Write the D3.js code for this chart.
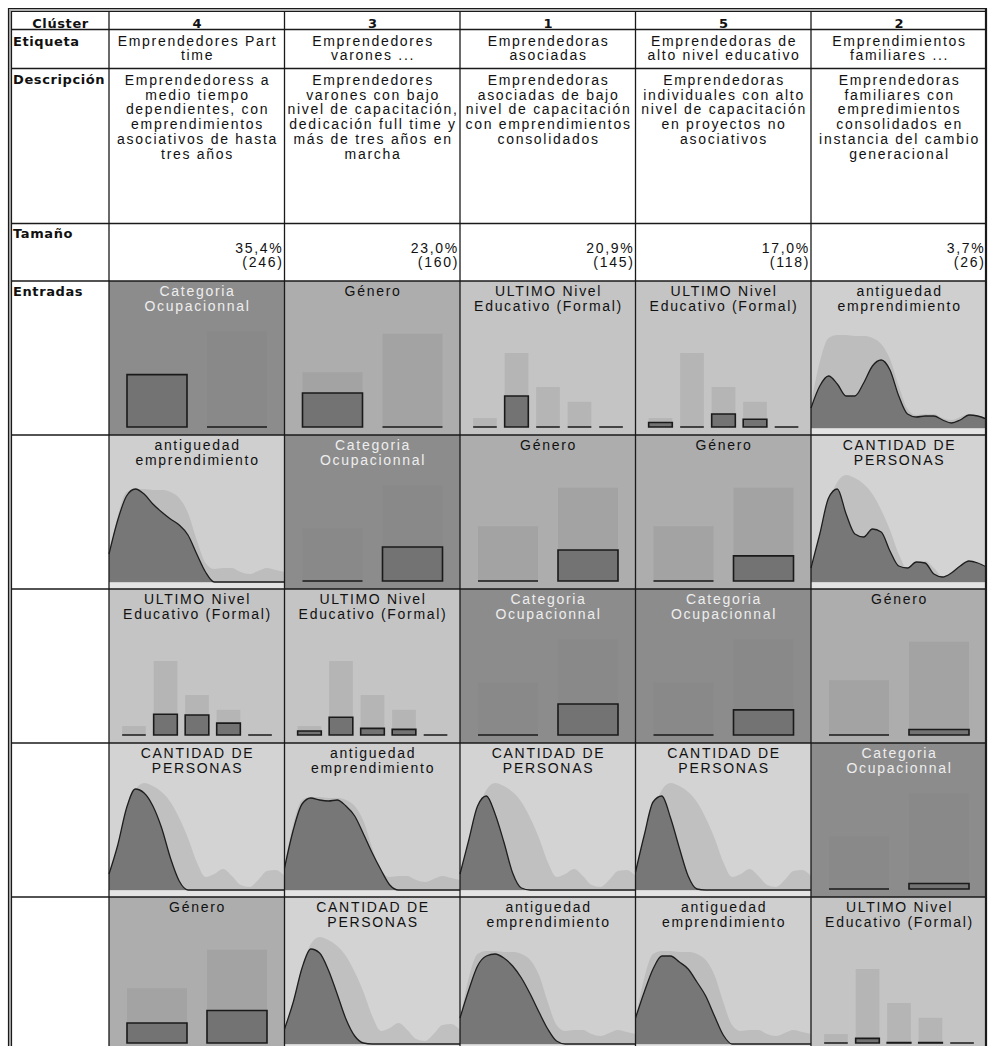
<!DOCTYPE html>
<html>
<head>
<meta charset="utf-8">
<script src="https://cdn.jsdelivr.net/npm/d3@7"></script>
<style>
  body { margin: 0; background: #fff; }
  svg text { font-family: "Liberation Sans", Arial, sans-serif; font-size: 14px; letter-spacing: 1.7px; fill: #111; }
  svg text.head { font-family: "DejaVu Sans", Verdana, sans-serif; font-weight: bold; font-size: 13px; letter-spacing: 0.6px; }
</style>
</head>
<body>
<div id="chart"></div>
<script>
// clusters in display order
const clusters = ['4', '3', '1', '5', '2'];
const sizePct = ['35,4%', '23,0%', '20,9%', '17,0%', '3,7%'];
const sizeN = ['(246)', '(160)', '(145)', '(118)', '(26)'];

const labels = [
  ['Emprendedores Part', 'time'],
  ['Emprendedores', 'varones ...'],
  ['Emprendedoras', 'asociadas'],
  ['Emprendedoras de', 'alto nivel educativo'],
  ['Emprendimientos', 'familiares ...']
];

const descriptions = [
  ['Emprendedoress a', 'medio tiempo', 'dependientes, con', 'emprendimientos', 'asociativos de hasta', 'tres años'],
  ['Emprendedores', 'varones con bajo', 'nivel de capacitación,', 'dedicación full time y', 'más de tres años en', 'marcha'],
  ['Emprendedoras', 'asociadas de bajo', 'nivel de capacitación', 'con emprendimientos', 'consolidados'],
  ['Emprendedoras', 'individuales con alto', 'nivel de capacitación', 'en proyectos no', 'asociativos'],
  ['Emprendedoras', 'familiares con', 'empredimientos', 'consolidados en', 'instancia del cambio', 'generacional']
];

// inputs (rows) per cluster, sorted by importance inside each cluster
const inputOrder = [
  ['cat', 'ant', 'edu', 'cant', 'gen'],
  ['gen', 'cat', 'edu', 'ant', 'cant'],
  ['edu', 'gen', 'cat', 'cant', 'ant'],
  ['edu', 'gen', 'cat', 'cant', 'ant'],
  ['ant', 'cant', 'gen', 'cat', 'edu']
];

const inputTitles = {
  cat: ['Categoria', 'Ocupacionnal'],
  gen: ['Género'],
  edu: ['ULTIMO Nivel', 'Educativo (Formal)'],
  ant: ['antiguedad', 'emprendimiento'],
  cant: ['CANTIDAD DE', 'PERSONAS']
};

// importance shading
const inputShade = { cat: '#8c8c8c', gen: '#adadad', edu: '#c4c4c4', ant: '#cfcfcf', cant: '#d3d3d3' };
const inputType = { cat: 'bar', gen: 'bar', edu: 'bar', ant: 'density', cant: 'density' };

// categorical inputs: share of total sample per category
const catOverall = [0.355, 0.645];
const catCluster = { '4': [0.354, 0], '3': [0, 0.23], '1': [0, 0.209], '5': [0, 0.17], '2': [0, 0.037] };

const genOverall = [0.37, 0.63];
const genCluster = { '4': [0.135, 0.22], '3': [0.23, 0], '1': [0, 0.209], '5': [0, 0.17], '2': [0, 0.037] };

const eduOverall = [0.06, 0.50, 0.27, 0.17, 0];
const eduCluster = {
  '4': [0, 0.14, 0.135, 0.08, 0],
  '3': [0.027, 0.12, 0.045, 0.038, 0],
  '1': [0, 0.209, 0, 0, 0],
  '5': [0.03, 0, 0.088, 0.052, 0],
  '2': [0, 0.031, 0.003, 0.003, 0]
};

// continuous inputs: relative density on a common grid
const densityX = [0, 1, 2, 3, 4, 5, 6, 7, 8, 9, 10, 11, 12, 13, 14, 15, 16, 17, 18, 19, 20];

const antOverall = [24, 66, 90, 93, 93, 92, 92, 90, 84, 69, 42, 19, 13, 14, 14, 10, 8, 11, 14, 12, 10];
const antCluster = {
  '4': [28, 62, 86, 93, 88, 78, 70, 63, 57, 47, 28, 10, 0, 0, 0, 0, 0, 0, 0, 0, 0],
  '3': [22, 60, 86, 92, 90, 89, 90, 84, 74, 56, 37, 20, 5, 0, 0, 0, 0, 0, 0, 0, 0],
  '1': [26, 54, 78, 88, 90, 86, 78, 66, 50, 32, 15, 3, 0, 0, 0, 0, 0, 0, 0, 0, 0],
  '5': [26, 52, 75, 88, 88, 82, 75, 62, 48, 28, 9, 0, 0, 0, 0, 0, 0, 0, 0, 0, 0],
  '2': [20, 42, 52, 44, 32, 32, 45, 62, 68, 58, 32, 14, 11, 12, 12, 8, 5, 8, 13, 12, 9]
};

const cantOverall = [14, 40, 78, 100, 107, 104, 98, 88, 72, 52, 28, 13, 16, 21, 14, 5, 3, 10, 19, 20, 14];
const cantCluster = {
  '4': [16, 45, 82, 101, 97, 84, 62, 32, 9, 0, 0, 0, 0, 0, 0, 0, 0, 0, 0, 0, 0],
  '3': [15, 42, 76, 95, 91, 74, 50, 25, 8, 1, 0, 0, 0, 0, 0, 0, 0, 0, 0, 0, 0],
  '1': [16, 50, 84, 94, 76, 48, 17, 2, 0, 0, 0, 0, 0, 0, 0, 0, 0, 0, 0, 0, 0],
  '5': [18, 55, 88, 94, 72, 42, 14, 1, 0, 0, 0, 0, 0, 0, 0, 0, 0, 0, 0, 0, 0],
  '2': [14, 48, 84, 93, 68, 48, 45, 53, 50, 31, 16, 14, 20, 19, 8, 5, 9, 16, 21, 19, 15]
};

const barData = {
  cat: { overall: catOverall, cluster: catCluster },
  gen: { overall: genOverall, cluster: genCluster },
  edu: { overall: eduOverall, cluster: eduCluster }
};
const densityData = {
  ant: { overall: antOverall, cluster: antCluster },
  cant: { overall: cantOverall, cluster: cantCluster }
};

const width = 988;
const height = 1046;
const labelLeft = 11.5;
const labelRight = 109;
const tableRight = 986.5;
const cellTop = 281;
const cellH = 154;

const svg = d3.select('#chart').append('svg')
  .attr('width', width)
  .attr('height', height);

const col = d3.scaleBand().domain(clusters).range([labelRight, tableRight]);
const row = d3.scaleBand().domain([0, 1, 2, 3, 4]).range([cellTop, cellTop + 5 * cellH]);
const colW = col.bandwidth();

// helper: several lines of text
function textLines(g, arr, x, y0, dy, anchor, cls, color) {
  arr.forEach(function (t, i) {
    g.append('text')
      .attr('class', cls || null)
      .attr('x', x)
      .attr('y', y0 + i * dy)
      .attr('text-anchor', anchor)
      .style('fill', color || null)
      .text(t);
  });
}

// ---- cells ----
const cells = svg.append('g');

clusters.forEach(function (c, ci) {
  inputOrder[ci].forEach(function (key, ri) {
    const g = cells.append('g')
      .attr('transform', 'translate(' + col(c) + ',' + row(ri) + ')');

    g.append('rect')
      .attr('width', colW)
      .attr('height', cellH)
      .attr('fill', inputShade[key]);

    if (inputType[key] === 'bar') {
      const d = barData[key];
      const x = d3.scaleBand()
        .domain(d3.range(d.overall.length))
        .range([10, 166])
        .paddingInner(0.25)
        .paddingOuter(0.1);
      const y = d3.scaleLinear().domain([0, 1]).range([146, -2]);

      g.selectAll('rect.overall')
        .data(d.overall)
        .join('rect')
        .attr('class', 'overall')
        .attr('x', function (v, i) { return x(i); })
        .attr('y', function (v) { return y(v); })
        .attr('width', x.bandwidth())
        .attr('height', function (v) { return y(0) - y(v); })
        .attr('fill', 'rgb(128,128,128)')
        .attr('fill-opacity', 0.22);

      // cluster bars as paths so that empty categories still show a line
      g.selectAll('path.clbar')
        .data(d.cluster[c])
        .join('path')
        .attr('class', 'clbar')
        .attr('d', function (v, i) {
          const x0 = x(i), x1 = x(i) + x.bandwidth();
          return 'M' + x0 + ',' + y(0) + 'H' + x1 + 'V' + y(v) + 'H' + x0 + 'Z';
        })
        .attr('fill', '#737373')
        .attr('stroke', '#1a1a1a')
        .attr('stroke-width', 1.6);
    } else {
      const d = densityData[key];
      const x = d3.scaleLinear().domain([0, 20]).range([0, colW]);
      const y = d3.scaleLinear().domain([0, 100]).range([147, 47]);

      // light strip under the plot
      g.append('rect')
        .attr('y', 148)
        .attr('width', colW)
        .attr('height', cellH - 148)
        .attr('fill', '#e4e4e4');

      const area = d3.area()
        .x(function (v, i) { return x(densityX[i]); })
        .y0(y(0))
        .y1(function (v) { return y(v); })
        .curve(d3.curveMonotoneX);
      const line = d3.line()
        .x(function (v, i) { return x(densityX[i]); })
        .y(function (v) { return y(v); })
        .curve(d3.curveMonotoneX);

      g.append('path')
        .datum(d.overall)
        .attr('d', area)
        .attr('fill', 'rgb(128,128,128)')
        .attr('fill-opacity', 0.22);

      g.append('path')
        .datum(d.cluster[c])
        .attr('d', area)
        .attr('fill', '#777');

      g.append('path')
        .datum(d.cluster[c])
        .attr('d', line)
        .attr('fill', 'none')
        .attr('stroke', '#1e1e1e')
        .attr('stroke-width', 1.3);
    }

    textLines(g, inputTitles[key], colW / 2 + 0.8, 15, 15, 'middle', null,
      key === 'cat' ? '#eeeeee' : '#111');
  });
});

// ---- header texts ----
const head = svg.append('g');

textLines(head, ['Clúster'], (labelLeft + labelRight) / 2 + 0.3, 27.5, 0, 'middle', 'head');
textLines(head, ['Etiqueta'], 13, 46, 0, 'start', 'head');
textLines(head, ['Descripción'], 13, 83.5, 0, 'start', 'head');
textLines(head, ['Tamaño'], 13, 237.5, 0, 'start', 'head');
textLines(head, ['Entradas'], 13, 295.5, 0, 'start', 'head');

clusters.forEach(function (c, ci) {
  const cx = col(c) + colW / 2 + 0.8;
  textLines(head, [c], cx - 0.3, 27.5, 0, 'middle', 'head');
  textLines(head, labels[ci], cx, 45.5, 14.5, 'middle');
  textLines(head, descriptions[ci], cx, 85, 14.7, 'middle');
  const rx = col(c) + colW - 1;
  textLines(head, [sizePct[ci], sizeN[ci]], rx, 252.5, 14.5, 'end');
});

// ---- grid lines ----
const grid = svg.append('g')
  .attr('stroke', '#1a1a1a')
  .attr('stroke-width', 1.3)
  .attr('fill', 'none');

const hLines = [29.5, 68.5, 223.5].concat(row.domain().map(function (r) { return row(r); }));
hLines.forEach(function (yy) {
  grid.append('line').attr('x1', labelLeft).attr('x2', tableRight).attr('y1', yy).attr('y2', yy);
});

clusters.forEach(function (c) {
  grid.append('line').attr('x1', col(c)).attr('x2', col(c)).attr('y1', 11.5).attr('y2', height + 10);
});

// double outer frame
const frame = svg.append('g').attr('fill', 'none');
frame.append('path')
  .attr('d', 'M10,' + (height + 10) + 'V10H985.5')
  .attr('stroke', '#b0b0b0')
  .attr('stroke-width', 3);
frame.append('path')
  .attr('d', 'M8.5,' + (height + 10) + 'V8.5H987')
  .attr('stroke', '#1a1a1a')
  .attr('stroke-width', 1.2);
frame.append('path')
  .attr('d', 'M11.5,' + (height + 10) + 'V11.5H985')
  .attr('stroke', '#1a1a1a')
  .attr('stroke-width', 1.2);
frame.append('line')
  .attr('x1', 986).attr('x2', 986)
  .attr('y1', 8.5).attr('y2', height + 10)
  .attr('stroke', '#1a1a1a')
  .attr('stroke-width', 2.2);
</script>
</body>
</html>
